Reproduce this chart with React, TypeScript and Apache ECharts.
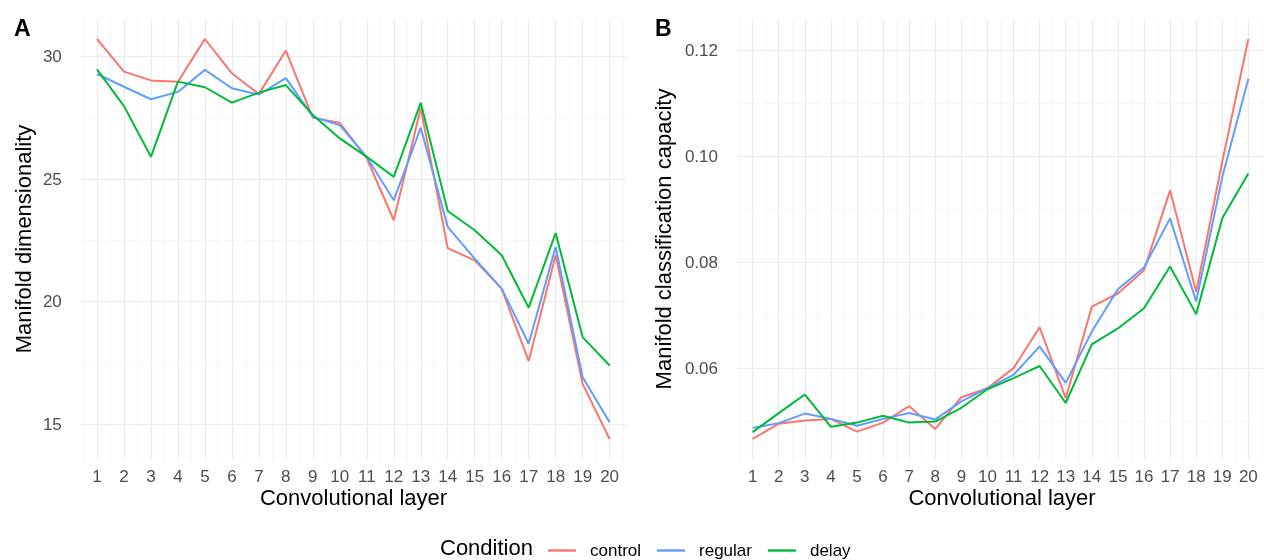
import { useEffect, useRef } from "react";
import * as echarts from "echarts";

const layers = [1, 2, 3, 4, 5, 6, 7, 8, 9, 10, 11, 12, 13, 14, 15, 16, 17, 18, 19, 20];
const conditions = ["control", "regular", "delay"];
const colors = ["#F8766D", "#619CFF", "#00BA38"];

const dimControl = [30.72, 29.39, 29.03, 28.97, 30.72, 29.32, 28.47, 30.25, 27.5, 27.3, 25.85, 23.32, 27.9, 22.18, 21.68, 20.53, 17.57, 21.89, 16.64, 14.39];
const dimRegular = [29.29, 28.77, 28.26, 28.56, 29.46, 28.71, 28.45, 29.12, 27.55, 27.2, 25.9, 24.14, 27.1, 23.05, 21.75, 20.53, 18.28, 22.23, 16.91, 15.07];
const dimDelay = [29.48, 27.98, 25.91, 28.98, 28.75, 28.12, 28.53, 28.84, 27.62, 26.66, 25.91, 25.09, 28.12, 23.7, 22.91, 21.89, 19.75, 22.8, 18.55, 17.39];

const capControl = [0.0466, 0.0495, 0.0501, 0.0504, 0.048, 0.0497, 0.0528, 0.0485, 0.0545, 0.0562, 0.06, 0.0677, 0.0543, 0.0716, 0.0741, 0.0785, 0.0936, 0.0744, 0.099, 0.1222];
const capRegular = [0.0487, 0.0496, 0.0514, 0.0504, 0.0491, 0.0504, 0.0515, 0.0503, 0.0537, 0.0562, 0.0587, 0.0641, 0.0572, 0.0669, 0.0749, 0.079, 0.0883, 0.0726, 0.0961, 0.1147];
const capDelay = [0.0479, 0.0515, 0.055, 0.0489, 0.0497, 0.051, 0.0497, 0.0499, 0.0525, 0.056, 0.0581, 0.0604, 0.0534, 0.0645, 0.0675, 0.0713, 0.0792, 0.0702, 0.0883, 0.0968];

const dimTicks = [15, 20, 25, 30];
const dimMinorTicks = [17.5, 22.5, 27.5];
const capTicks = [0.06, 0.08, 0.1, 0.12];
const capMinorTicks = [0.05, 0.07, 0.09, 0.11];

const FONT = '"Liberation Sans", Arial, Helvetica, sans-serif';
const MAJOR = { color: "#ebebeb", width: 1.2, type: "solid" as const };
const MINOR = { color: "#f4f4f4", width: 0.8, type: "solid" as const };

function padded(arrs: number[][]) {
  const all = arrs.flat();
  const lo = Math.min(...all);
  const hi = Math.max(...all);
  const p = (hi - lo) * 0.05;
  return [lo - p, hi + p];
}

export default function App() {
  const ref = useRef<HTMLDivElement>(null);
  useEffect(() => {
    if (!ref.current) return;
    const chart = echarts.init(ref.current, null, { renderer: "svg" });
    const [aMin, aMax] = padded([dimControl, dimRegular, dimDelay]);
    const [bMin, bMax] = padded([capControl, capRegular, capDelay]);
    const xMinor = layers.map((l) => l - 0.5).concat([layers[layers.length - 1] + 0.5]);

    const gridSeries = (idx: number, yMajor: number[], yMinor: number[]) => ({
      type: "line",
      xAxisIndex: idx,
      yAxisIndex: idx,
      data: [],
      silent: true,
      z: 1,
      markLine: {
        silent: true,
        z: 1,
        symbol: ["none", "none"],
        label: { show: false },
        emphasis: { disabled: true },
        data: [
          ...xMinor.map((v) => ({ xAxis: v, lineStyle: MINOR })),
          ...yMinor.map((v) => ({ yAxis: v, lineStyle: MINOR })),
          ...layers.map((v) => ({ xAxis: v, lineStyle: MAJOR })),
          ...yMajor.map((v) => ({ yAxis: v, lineStyle: MAJOR })),
        ],
      },
    });

    const dataSeries = (idx: number, arrs: number[][]) =>
      arrs.map((arr, k) => ({
        type: "line",
        name: conditions[k],
        xAxisIndex: idx,
        yAxisIndex: idx,
        data: layers.map((l, i) => [l, arr[i]]),
        showSymbol: false,
        symbol: "none",
        z: 10 + k,
        lineStyle: { color: colors[k], width: 2 },
        itemStyle: { color: colors[k] },
      }));

    const xAxisCommon = {
      type: "value",
      min: 0.4,
      max: 20.6,
      axisLine: { show: false },
      axisTick: { show: false },
      splitLine: { show: false },
      axisLabel: {
        customValues: layers,
        fontSize: 17,
        color: "#4d4d4d",
        fontFamily: FONT,
        margin: 9,
      },
    };

    const option: any = {
      animation: false,
      grid: [
        { left: 80.8, top: 19, width: 545, height: 440 },
        { left: 737, top: 19, width: 529.2, height: 440 },
      ],
      xAxis: [
        { ...xAxisCommon, gridIndex: 0 },
        { ...xAxisCommon, gridIndex: 1 },
      ],
      yAxis: [
        {
          type: "value",
          gridIndex: 0,
          min: aMin,
          max: aMax,
          axisLine: { show: false },
          axisTick: { show: false },
          splitLine: { show: false },
          axisLabel: {
            customValues: dimTicks,
            fontSize: 17,
            color: "#4d4d4d",
            fontFamily: FONT,
            margin: 19,
            formatter: (v: number) => String(v),
          },
        },
        {
          type: "value",
          gridIndex: 1,
          min: bMin,
          max: bMax,
          axisLine: { show: false },
          axisTick: { show: false },
          splitLine: { show: false },
          axisLabel: {
            customValues: capTicks,
            fontSize: 17,
            color: "#4d4d4d",
            fontFamily: FONT,
            margin: 19,
            formatter: (v: number) => v.toFixed(2),
          },
        },
      ],
      legend: {
        data: conditions,
        left: 548,
        top: 542,
        padding: 0,
        icon: "rect",
        itemWidth: 28,
        itemHeight: 2.4,
        itemGap: 16,
        textStyle: { fontSize: 17, color: "#000", fontFamily: FONT, padding: [0, 0, 0, 9] },
        selectedMode: false,
      },
      series: [
        gridSeries(0, dimTicks, dimMinorTicks),
        gridSeries(1, capTicks, capMinorTicks),
        ...dataSeries(0, [dimControl, dimRegular, dimDelay]),
        ...dataSeries(1, [capControl, capRegular, capDelay]),
      ],
      graphic: [
        { type: "text", x: 14, y: 28, style: { text: "A", font: `bold 23px ${FONT}`, fill: "#000", align: "left", verticalAlign: "middle" } },
        { type: "text", x: 655, y: 28, style: { text: "B", font: `bold 23px ${FONT}`, fill: "#000", align: "left", verticalAlign: "middle" } },
        { type: "text", x: 353.5, y: 497, style: { text: "Convolutional layer", font: `22px ${FONT}`, fill: "#000", align: "center", verticalAlign: "middle" } },
        { type: "text", x: 1002, y: 497, style: { text: "Convolutional layer", font: `22px ${FONT}`, fill: "#000", align: "center", verticalAlign: "middle" } },
        { type: "text", x: 23.5, y: 239, rotation: Math.PI / 2, style: { text: "Manifold dimensionality", font: `22px ${FONT}`, fill: "#000", align: "center", verticalAlign: "middle" } },
        { type: "text", x: 663.5, y: 239, rotation: Math.PI / 2, style: { text: "Manifold classification capacity", font: `22px ${FONT}`, fill: "#000", align: "center", verticalAlign: "middle" } },
        { type: "text", x: 440, y: 547.3, style: { text: "Condition", font: `22px ${FONT}`, fill: "#000", align: "left", verticalAlign: "middle" } },
      ],
    };
    chart.setOption(option);
    return () => chart.dispose();
  }, []);
  return <div ref={ref} style={{ position: "fixed", left: 0, top: 0, width: 1264, height: 560 }} />;
}
